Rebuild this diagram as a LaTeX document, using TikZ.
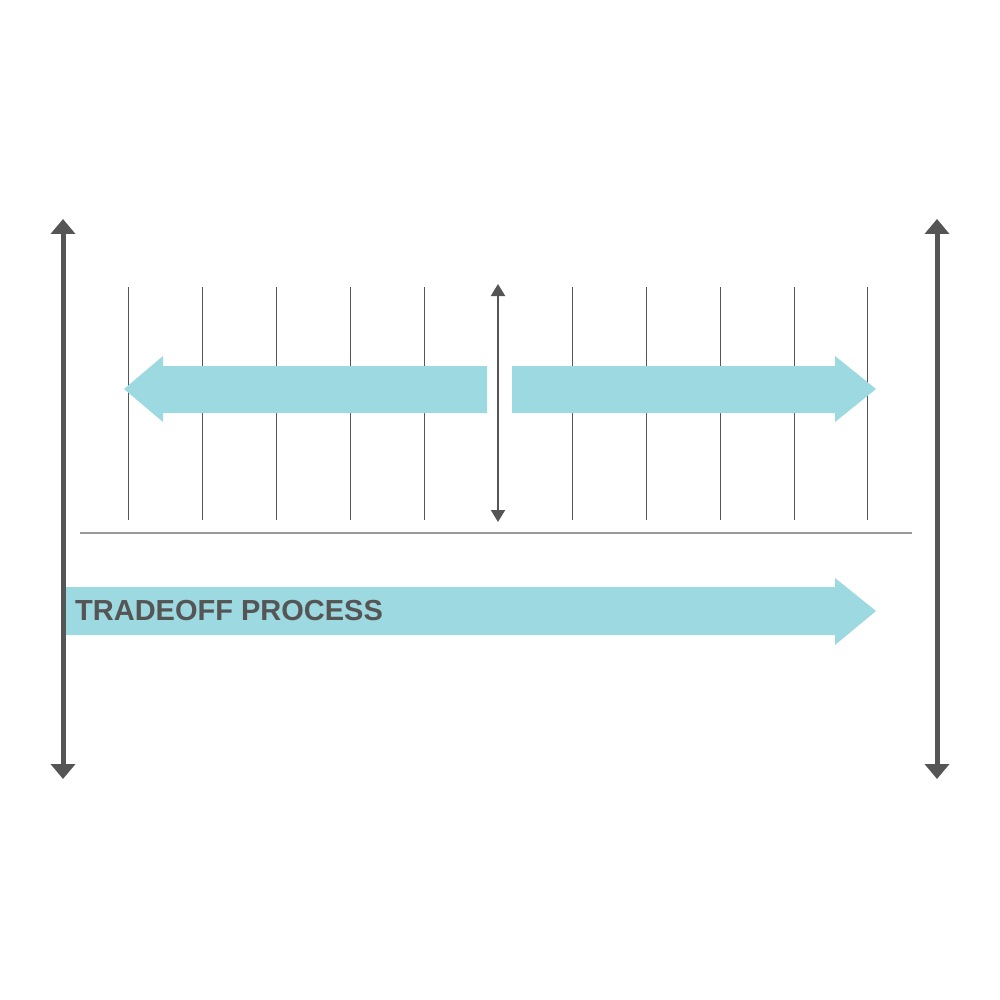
\documentclass[tikz,border=0pt]{standalone}
\usepackage{fontspec}
\setmainfont{Liberation Sans}
\usetikzlibrary{arrows.meta}
\definecolor{dgray}{HTML}{555555}
\definecolor{lgray}{HTML}{999999}
\definecolor{teal}{HTML}{9DD9E0}
\tikzset{
  bigarrow/.style={draw=dgray, line width=5pt, {Triangle[width=24pt,length=15pt]}-{Triangle[width=24pt,length=15pt]}},
  midarrow/.style={draw=dgray, line width=2pt, {Triangle[width=14pt,length=12pt]}-{Triangle[width=14pt,length=12pt]}},
  gridline/.style={draw=dgray, line width=0.8pt},
  baseline/.style={draw=lgray, line width=1.2pt},
  flow/.style={fill=teal, draw=none},
  lbl/.style={text=dgray, font=\bfseries\fontsize{29}{32}\selectfont, anchor=base west, inner sep=0pt}
}
\begin{document}
\begin{tikzpicture}[x=1pt,y=-1pt]
\useasboundingbox (0,0) rectangle (1000,1000);
\fill[white] (0,0) rectangle (1000,1000);
% grid lines
\foreach \i/\x in {1/128,2/202,3/276,4/350,5/424,7/572,8/646,9/720,10/794,11/867}{
  \coordinate (gt\i) at (\x,287);
  \coordinate (gb\i) at (\x,520);
  \draw[gridline] (gt\i) -- (gb\i);
}
% left cyan arrow
\fill[flow] (124,389) -- (163,356) -- (163,366) -- (487,366) -- (487,413) -- (163,413) -- (163,422) -- cycle;
% right cyan arrow
\fill[flow] (512,366) -- (835,366) -- (835,356) -- (876,389) -- (835,422) -- (835,413) -- (512,413) -- cycle;
% baseline
\coordinate (hl) at (80,533);
\coordinate (hr) at (912,533);
\draw[baseline] (hl) -- (hr);
% middle arrow
\coordinate (mt) at (498,284);
\coordinate (mb) at (498,522);
\draw[midarrow] (mt) -- (mb);
% bottom process arrow
\fill[flow] (66,587) -- (835,587) -- (835,578) -- (876,611) -- (835,645) -- (835,635) -- (66,635) -- cycle;
\node[lbl] (proc) at (75,620) {TRADEOFF PROCESS};
% big side arrows
\coordinate (lt) at (63,219);
\coordinate (lb) at (63,779);
\coordinate (rt) at (937,219);
\coordinate (rb) at (937,779);
\draw[bigarrow] (lt) -- (lb);
\draw[bigarrow] (rt) -- (rb);
\end{tikzpicture}
\end{document}
